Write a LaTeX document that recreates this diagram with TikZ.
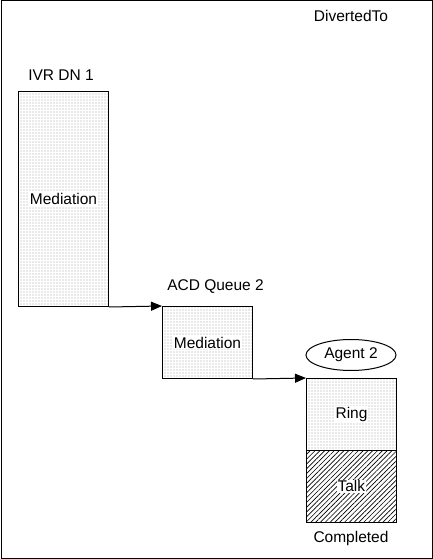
\documentclass[tikz,border=0pt]{standalone}
\usepackage{fontspec}
\setmainfont{Liberation Sans}
\usetikzlibrary{patterns.meta,arrows.meta,shapes.geometric}
\begin{document}
\begin{tikzpicture}[x=1pt,y=-1pt,
  every node/.style={font=\fontsize{15.5}{18}\selectfont},
  dotbox/.style={draw=black, line width=1pt, pattern={Dots[distance=3pt, radius=0.42pt]}, pattern color=black, anchor=north west, inner sep=0pt},
  hatchbox/.style={draw=black, line width=1pt, pattern={Lines[angle=45, distance=3.4pt, line width=0.65pt]}, pattern color=black, anchor=north west, inner sep=0pt},
  inlabel/.style={fill=white, inner sep=1pt},
  plainlabel/.style={inner sep=1pt},
  flow/.style={draw=black, line width=1pt, -{Triangle[length=11pt,width=9pt]}}
]
\useasboundingbox (0,0) rectangle (433,559);
\draw[line width=1pt] (1,1) rectangle (432,558);
\node[plainlabel] (div) at (351,16) {DivertedTo};
\node[plainlabel] (ivrlab) at (61,75) {IVR DN 1};
\node[dotbox, minimum width=90pt, minimum height=215pt] (ivr) at (18,91) {};
\node[inlabel] (ivrmed) at (ivr.center) {Mediation};
\node[plainlabel] (acdlab) at (215.5,287) {ACD Queue 2};
\node[dotbox, minimum width=90pt, minimum height=72pt] (acd) at (162,306) {};
\node[inlabel] (acdmed) at (acd.center) {Mediation};
\node[draw=black, line width=1pt, ellipse, minimum width=90pt, minimum height=31pt, inner sep=0pt] (agent) at (351,355) {Agent 2};
\node[dotbox, minimum width=90pt, minimum height=72pt] (ring) at (306,378) {};
\node[inlabel] (ringlab) at (ring.center) {Ring};
\node[hatchbox, minimum width=90pt, minimum height=72pt] (talk) at (306,450) {};
\node[inlabel] (talklab) at (talk.center) {Talk};
\node[plainlabel] (done) at (351,538) {Completed};
\draw[flow] (ivr.south east) -- (acd.north west);
\draw[flow] (acd.south east) -- (ring.north west);
\end{tikzpicture}
\end{document}
